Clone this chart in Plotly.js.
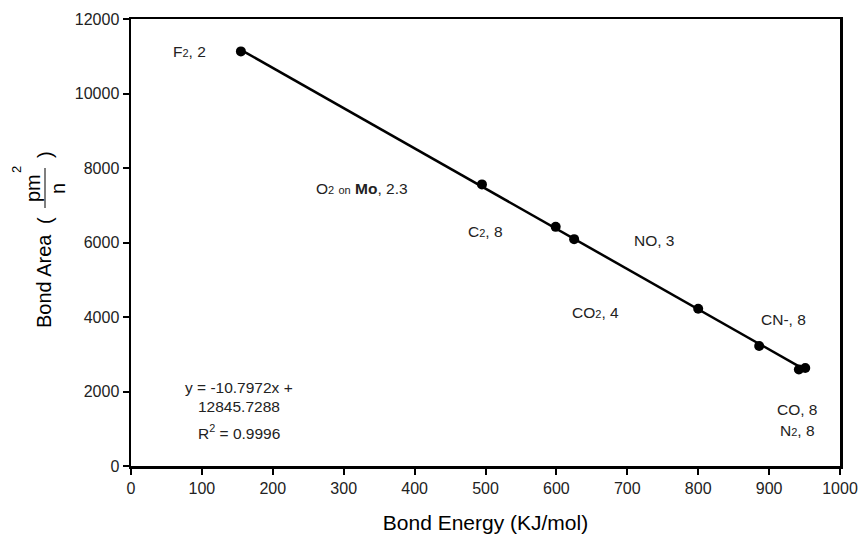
<!DOCTYPE html>
<html>
<head>
<meta charset="utf-8">
<script src="https://cdn.plot.ly/plotly-3.0.1.min.js"></script>
<style>html,body{margin:0;padding:0;background:#fff;}#chart{width:860px;height:539px;}</style>
</head>
<body>
<div id="chart"></div>
<script>
var bondEnergy = [155, 495, 599, 625, 800, 886, 942, 951];
var bondArea = [11130, 7560, 6420, 6090, 4220, 3220, 2590, 2630];
var trendX = [155, 952];
var trendY = [11172, 2567];
var xTicks = [0, 100, 200, 300, 400, 500, 600, 700, 800, 900, 1000];
var yTicks = [0, 2000, 4000, 6000, 8000, 10000, 12000];
var sm = function (t) { return "<span style='font-size:11px'>" + t + "</span>"; };
var labelText = ["F" + sm("2") + ", 2", "O" + sm("2") + " " + sm("on") + " <b>Mo</b>, 2.3", "C" + sm("2") + ", 8", "NO, 3", "CO" + sm("2") + ", 4", "CN-, 8", "CO, 8", "N" + sm("2") + ", 8"];
var labelX = [83, 326, 500, 738, 655, 920, 940, 940];
var labelY = [11140, 7450, 6290, 6060, 4120, 3940, 1530, 950];

var fontFam = "Liberation Sans, Arial, sans-serif";
var traces = [
  {x: trendX, y: trendY, mode: "lines", line: {color: "#000", width: 2.5}, hoverinfo: "skip"},
  {x: bondEnergy, y: bondArea, mode: "markers", marker: {color: "#000", size: 10}}
];

var annFont = {size: 15.5, color: "#222", family: fontFam};
var ann = [];
for (var i = 0; i < labelText.length; i++) {
  ann.push({x: labelX[i], y: labelY[i], xref: "x", yref: "y", text: labelText[i], showarrow: false, font: annFont});
}
ann.push({x: 153, y: 2100, xref: "x", yref: "y", text: "y = -10.7972x +", showarrow: false, font: annFont});
ann.push({x: 153, y: 1590, xref: "x", yref: "y", text: "12845.7288", showarrow: false, font: annFont});
ann.push({x: 153, y: 900, xref: "x", yref: "y", text: "R<sup>2</sup> = 0.9996", showarrow: false, font: annFont});

// y-axis title pieces, positioned in pixels then converted to paper coords
var titleFont = {size: 20, color: "#000", family: fontFam};
var pieces = [
  {px: 44, py: 281, text: "Bond Area", font: titleFont},
  {px: 45, py: 221, text: "(", font: titleFont},
  {px: 45, py: 155, text: ")", font: titleFont},
  {px: 33, py: 188, text: "pm", font: titleFont},
  {px: 16, py: 170, text: "2", font: {size: 13, color: "#000", family: fontFam}},
  {px: 58, py: 189, text: "n", font: titleFont}
];
pieces.forEach(function (p) {
  ann.push({x: (p.px - 131) / 709, y: (466 - p.py) / 447, xref: "paper", yref: "paper",
    xanchor: "center", yanchor: "middle", text: p.text, textangle: -90, showarrow: false, font: p.font});
});

var layout = {
  width: 860, height: 539,
  margin: {l: 131, r: 20, t: 19, b: 73},
  paper_bgcolor: "#fff", plot_bgcolor: "#fff",
  showlegend: false,
  font: {family: fontFam, color: "#000", size: 16},
  xaxis: {range: [0, 1000], tickvals: xTicks, ticks: "outside", ticklen: 6, tickwidth: 2, tickcolor: "#000",
    showline: true, linewidth: 2.5, linecolor: "#000", mirror: true, showgrid: false, zeroline: false,
    tickfont: {size: 16, color: "#222"},
    title: {text: "Bond Energy (KJ/mol)", font: {size: 21, color: "#000"}, standoff: 20}},
  yaxis: {range: [0, 12000], tickvals: yTicks, tickformat: "d", ticks: "outside", ticklen: 6, tickwidth: 2, tickcolor: "#000",
    showline: true, linewidth: 2.5, linecolor: "#000", mirror: true, showgrid: false, zeroline: false,
    tickfont: {size: 16, color: "#222"}},
  annotations: ann,
  shapes: [{type: "line", xref: "paper", yref: "paper", x0: (45 - 131) / 709, x1: (45 - 131) / 709,
    y0: (466 - 208) / 447, y1: (466 - 168) / 447, line: {color: "#555", width: 1.5}}]
};
Plotly.newPlot("chart", traces, layout, {displayModeBar: false, staticPlot: true});
</script>
</body>
</html>
